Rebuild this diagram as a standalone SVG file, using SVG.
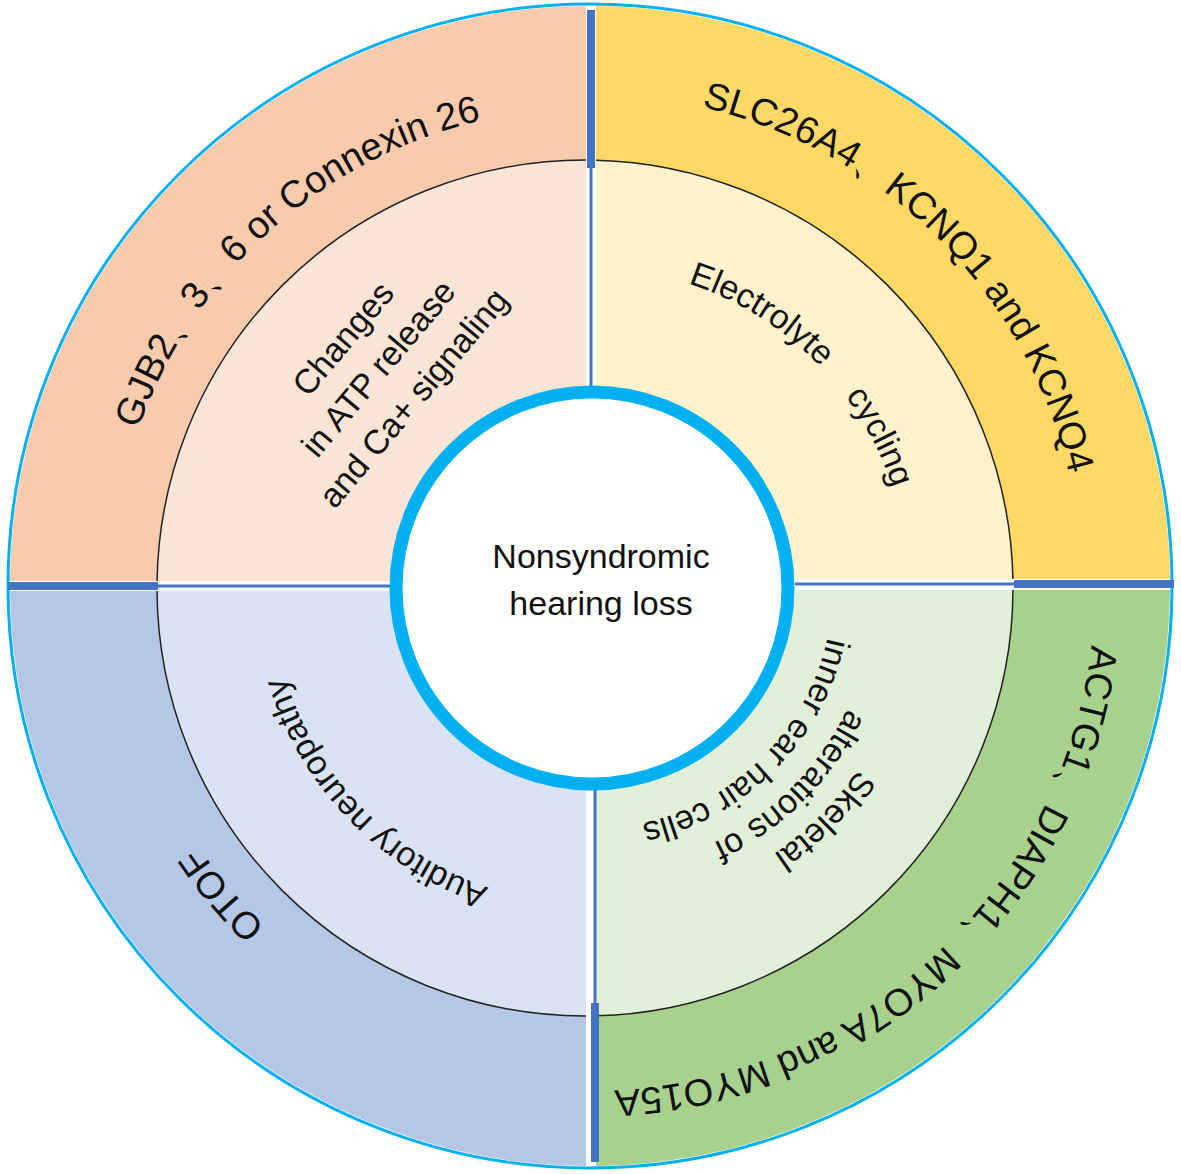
<svg xmlns="http://www.w3.org/2000/svg" width="1181" height="1174" viewBox="0 0 1181 1174">
<style>
text{font-family:"Liberation Sans",Arial,sans-serif;fill:#111}
.o{font-size:38px}
.i{font-size:34px}
.c{font-size:34px}
.mid{stroke:#222;stroke-width:1.5}
</style>
<defs>
<clipPath id="tl"><rect x="0" y="0" width="586" height="581"/></clipPath>
<clipPath id="tr"><rect x="596" y="0" width="590" height="579"/></clipPath>
<clipPath id="br"><rect x="596" y="590" width="590" height="590"/></clipPath>
<clipPath id="bl"><rect x="0" y="591" width="586" height="590"/></clipPath>
<path id="pTL" d="M 122.4 685.4 A 478 478 0 0 1 737.7 131.4"/>
<path id="pTR" d="M 462.7 110.8 A 492 492 0 0 1 1065.2 713.3"/>
<path id="pBR" d="M 1082.1 472.4 A 505 505 0 0 1 442.4 1068.9"/>
<path id="pBL" d="M 671.6 1048.9 A 470 470 0 0 1 148.3 425.3"/>
<path id="pE" d="M 534.8 272.8 A 318 318 0 0 1 903.2 641.2"/>
<path id="pS1" d="M 903.9 501.9 A 325 325 0 0 1 505.9 899.9"/>
<path id="pS2" d="M 865.3 512.2 A 285 285 0 0 1 516.2 861.3"/>
<path id="pS3" d="M 824.7 523.1 A 243 243 0 0 1 527.1 820.7"/>
<path id="pA" d="M 666.9 894.6 A 318 318 0 0 1 284.3 498.3"/>
</defs>
<g id="outer">
<circle cx="590" cy="586" r="582" fill="none" stroke="#00B0F0" stroke-width="3"/>
<circle cx="590" cy="586" r="580" fill="#F8CBAD" clip-path="url(#tl)"/>
<circle cx="590" cy="586" r="580" fill="#FFD966" clip-path="url(#tr)"/>
<circle cx="590" cy="586" r="580" fill="#A9D18E" clip-path="url(#br)"/>
<circle cx="590" cy="586" r="580" fill="#B4C7E7" clip-path="url(#bl)"/>
</g>
<g id="middle">
<circle class="mid" cx="585" cy="588" r="428" fill="#FBE5D6" clip-path="url(#tl)"/>
<circle class="mid" cx="585" cy="588" r="428" fill="#FFF2CC" clip-path="url(#tr)"/>
<circle class="mid" cx="585" cy="588" r="428" fill="#E2F0D9" clip-path="url(#br)"/>
<circle class="mid" cx="585" cy="588" r="428" fill="#DAE3F3" clip-path="url(#bl)"/>
</g>
<g id="connectors" stroke="#4472C4" fill="none">
<line x1="591" y1="10" x2="591" y2="168" stroke-width="8"/>
<line x1="591" y1="168" x2="591" y2="392" stroke-width="3"/>
<line x1="595" y1="790" x2="595" y2="1003" stroke-width="3"/>
<line x1="595" y1="1003" x2="595" y2="1162" stroke-width="8"/>
<line x1="8" y1="586" x2="158" y2="586" stroke-width="8"/>
<line x1="158" y1="586" x2="392" y2="586" stroke-width="3"/>
<line x1="795" y1="584" x2="1014" y2="584" stroke-width="3"/>
<line x1="1014" y1="584" x2="1174" y2="584" stroke-width="8"/>
</g>
<g id="center">
<circle cx="592" cy="588" r="196" fill="#fff" stroke="#00B0F0" stroke-width="13"/>
<text class="c" x="601" y="568" text-anchor="middle">Nonsyndromic</text>
<text class="c" x="601" y="615" text-anchor="middle">hearing loss</text>
</g>
<g id="q-tl">
<text class="o"><textPath href="#pTL" startOffset="50%" text-anchor="middle">GJB2、3、6 or Connexin 26</textPath></text>
<g transform="translate(378,368) rotate(-50)">
<text class="i" x="0" y="-34" text-anchor="middle">Changes</text>
<text class="i" x="0" y="12" text-anchor="middle">in ATP release</text>
<text class="i" x="0" y="58" text-anchor="middle">and Ca+ signaling</text>
</g>
</g>
<g id="q-tr">
<text class="o"><textPath href="#pTR" startOffset="50%" text-anchor="middle">SLC26A4、KCNQ1 and KCNQ4</textPath></text>
<text class="i" style="white-space:pre"><textPath href="#pE" startOffset="50%" text-anchor="middle">Electrolyte    cycling</textPath></text>
</g>
<g id="q-br">
<text class="o"><textPath href="#pBR" startOffset="50%" text-anchor="middle">ACTG1、DIAPH1、MYO7A and MYO15A</textPath></text>
<text class="i"><textPath href="#pS1" startOffset="50%" text-anchor="middle">Skeletal</textPath></text>
<text class="i"><textPath href="#pS2" startOffset="50%" text-anchor="middle">alterations of</textPath></text>
<text class="i"><textPath href="#pS3" startOffset="50%" text-anchor="middle">inner ear hair cells</textPath></text>
</g>
<g id="q-bl">
<text class="o"><textPath href="#pBL" startOffset="50%" text-anchor="middle">OTOF</textPath></text>
<text class="i"><textPath href="#pA" startOffset="50%" text-anchor="middle">Auditory neuropathy</textPath></text>
</g>
</svg>
